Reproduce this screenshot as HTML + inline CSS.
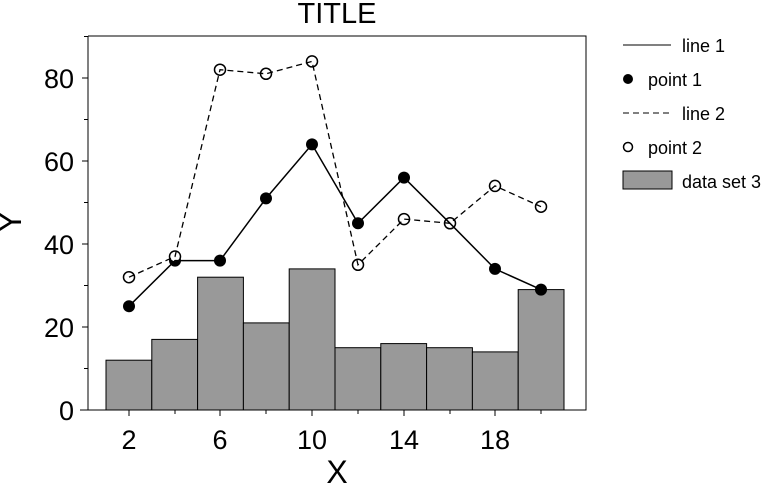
<!DOCTYPE html>
<html><head><meta charset="utf-8"><style>body{margin:0;background:#fff}svg{display:block}text{font-family:"Liberation Sans",sans-serif;fill:#000}</style></head><body>
<svg width="769" height="484" viewBox="0 0 769 484">
<text x="337" y="23" font-size="29" text-anchor="middle">TITLE</text>
<g fill="#999" stroke="#000" stroke-width="1">
<rect x="106" y="360.2" width="45.8" height="49.8"/>
<rect x="151.8" y="339.4" width="45.8" height="70.6"/>
<rect x="197.6" y="277.2" width="45.8" height="132.8"/>
<rect x="243.4" y="322.9" width="45.8" height="87.1"/>
<rect x="289.2" y="268.9" width="45.8" height="141.1"/>
<rect x="335" y="347.7" width="45.8" height="62.3"/>
<rect x="380.8" y="343.6" width="45.8" height="66.4"/>
<rect x="426.6" y="347.7" width="45.8" height="62.3"/>
<rect x="472.4" y="351.9" width="45.8" height="58.1"/>
<rect x="518.2" y="289.6" width="45.8" height="120.4"/>
</g>
<g fill="#000">
<circle cx="129" cy="306.2" r="6"/><circle cx="175" cy="260.6" r="6"/><circle cx="220" cy="260.6" r="6"/><circle cx="266" cy="198.4" r="6"/><circle cx="312" cy="144.4" r="6"/><circle cx="358" cy="223.3" r="6"/><circle cx="404" cy="177.6" r="6"/><circle cx="450" cy="223.3" r="6"/><circle cx="495" cy="268.9" r="6"/><circle cx="541" cy="289.6" r="6"/>
</g>
<g fill="#fff" stroke="#000" stroke-width="1.5">
<circle cx="129" cy="277.2" r="5.5"/><circle cx="175" cy="256.5" r="5.5"/><circle cx="220" cy="69.7" r="5.5"/><circle cx="266" cy="73.8" r="5.5"/><circle cx="312" cy="61.4" r="5.5"/><circle cx="358" cy="264.8" r="5.5"/><circle cx="404" cy="219.1" r="5.5"/><circle cx="450" cy="223.3" r="5.5"/><circle cx="495" cy="185.9" r="5.5"/><circle cx="541" cy="206.7" r="5.5"/>
</g>
<g stroke="#000" fill="none" stroke-width="1">
<path d="M88,36V410H586V36H88M80,410H88"/>
<path d="M82,410H88M82,327H88M82,244H88M82,161H88M82,78H88M84,368.5H88M84,285.5H88M84,202.5H88M84,119.5H88M84,36.5H88"/>
<path d="M129,410v6M175,410v4M220,410v6M266,410v4M312,410v6M358,410v4M404,410v6M450,410v4M495,410v6M541,410v4"/>
<polyline stroke-width="1.5" points="129,306.2 175,260.6 220,260.6 266,198.4 312,144.4 358,223.3 404,177.6 450,223.3 495,268.9 541,289.6"/>
<polyline stroke-width="1.3" stroke-dasharray="6,4" points="129,277.2 175,256.5 220,69.7 266,73.8 312,61.4 358,264.8 404,219.1 450,223.3 495,185.9 541,206.7"/>
</g>
<g font-size="27" text-anchor="end">
<text x="74" y="420">0</text><text x="74" y="337">20</text><text x="74" y="254">40</text><text x="74" y="171">60</text><text x="74" y="88">80</text>
</g>
<g font-size="27" text-anchor="middle">
<text x="129" y="449">2</text><text x="220" y="449">6</text><text x="312" y="449">10</text><text x="404" y="449">14</text><text x="495" y="449">18</text>
</g>
<text x="337" y="483" font-size="32" text-anchor="middle">X</text>
<text transform="translate(21,222) rotate(-90)" font-size="32" text-anchor="middle">Y</text>
<g stroke="#000">
<line x1="623" y1="45" x2="671" y2="45"/>
<line x1="623" y1="113" x2="671" y2="113" stroke-dasharray="6,4"/>
</g>
<circle cx="628" cy="79" r="5" fill="#000"/>
<circle cx="628" cy="147" r="4.5" fill="#fff" stroke="#000" stroke-width="1.5"/>
<rect x="623" y="171" width="49" height="18" fill="#999" stroke="#000"/>
<g font-size="18">
<text x="682" y="52">line 1</text><text x="648" y="86">point 1</text><text x="682" y="120">line 2</text><text x="648" y="154">point 2</text><text x="682" y="188">data set 3</text>
</g>
</svg>
</body></html>
